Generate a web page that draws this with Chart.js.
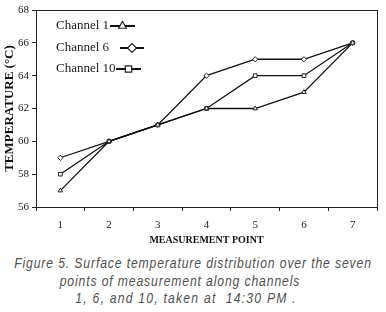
<!DOCTYPE html>
<html><head><meta charset="utf-8">
<script src="https://cdn.jsdelivr.net/npm/chart.js@4/dist/chart.umd.min.js"></script>
<style>
html,body{margin:0;padding:0;background:#fff;width:386px;height:312px;overflow:hidden}
#wrap{position:absolute;left:0;top:0;width:386px;height:250px}
#cap{position:absolute;left:-107px;top:255px;width:600px;text-align:center;font-family:"Liberation Sans",sans-serif;font-style:italic;font-size:14px;line-height:17.5px;color:#505050;letter-spacing:1px;white-space:nowrap;transform:scaleX(0.87);transform-origin:300px 0}
#cap div{box-sizing:border-box}
</style></head><body>
<div id="wrap"><canvas id="c" width="386" height="250"></canvas></div>
<div id="cap"><div>Figure 5. Surface temperature distribution over the seven</div><div style="padding-right:30px">points of measurement along channels</div><div style="padding-right:16px;letter-spacing:1.4px">1, 6, and 10, taken at &nbsp;14:30 PM .</div></div>
<script>
const categories = ["1","2","3","4","5","6","7"];
const channel1 = [57, 60, 61, 62, 62, 63, 66];
const channel6 = [59, 60, 61, 64, 65, 65, 66];
const channel10 = [58, 60, 61, 62, 64, 64, 66];
const seriesNames = ["Channel 1", "Channel 6", "Channel 10"];
const yTicks = [56, 58, 60, 62, 64, 66, 68];

const serif = "'Liberation Serif','Times New Roman',serif";
function ds(label, data, style){
  return {label, data, borderColor:'#111', borderWidth:1.3, backgroundColor:'#fff',
    pointStyle:style, pointRadius:2.6, pointBorderColor:'#222', pointBorderWidth:1,
    pointBackgroundColor:'#fff', tension:0, fill:false};
}
const legendPlugin = {
  id:'customLegend',
  afterDraw(chart){
    const ctx = chart.ctx;
    const items = [
      {t:seriesNames[0], y:26, x0:110, x1:135, style:'triangle'},
      {t:seriesNames[1], y:48, x0:120, x1:144, style:'rectRot'},
      {t:seriesNames[2], y:69, x0:116, x1:141, style:'rect'}
    ];
    ctx.save();
    ctx.font = "13px " + serif;
    ctx.fillStyle = '#222';
    ctx.textBaseline = 'middle';
    items.forEach(it=>{
      ctx.fillText(it.t, 56, it.y);
      ctx.strokeStyle = '#111'; ctx.lineWidth = 2;
      ctx.beginPath(); ctx.moveTo(it.x0, it.y); ctx.lineTo(it.x1, it.y); ctx.stroke();
      ctx.fillStyle = '#fff'; ctx.strokeStyle='#222'; ctx.lineWidth=1.2;
      Chart.helpers.drawPoint(ctx, {pointStyle:it.style, radius:4.5, borderWidth:1.2, rotation:0}, (it.x0+it.x1)/2, it.y);
      ctx.fillStyle = '#222';
    });
    const a = chart.chartArea;
    ctx.strokeStyle = '#222'; ctx.lineWidth = 1;
    ctx.strokeRect(Math.round(a.left)+0.5, Math.round(a.top)+0.5, Math.round(a.right-a.left), Math.round(a.bottom-a.top));
    ctx.restore();
  }
};
new Chart(document.getElementById('c'), {
  type:'line',
  data:{labels:categories, datasets:[ds(seriesNames[0],channel1,'triangle'), ds(seriesNames[1],channel6,'rectRot'), ds(seriesNames[2],channel10,'rect')]},
  options:{
    responsive:false, animation:false, devicePixelRatio:1,
    layout:{padding:{top:10,right:9,left:0,bottom:0}},
    plugins:{legend:{display:false}, tooltip:{enabled:false}},
    scales:{
      x:{offset:true, grid:{offset:true, drawOnChartArea:false, color:'#222', tickLength:4, tickColor:'#222'},
         border:{color:'#222'},
         ticks:{color:'#222', font:{family:serif, size:11}, padding:8, maxRotation:0},
         title:{display:true, text:'MEASUREMENT POINT', color:'#111', font:{family:serif, size:10, weight:'bold'}, padding:{top:4,bottom:4}},
         afterFit(s){ s.height = 43; }},
      y:{min:56, max:68, afterBuildTicks(s){ s.ticks = yTicks.map(v=>({value:v})); },
         grid:{drawOnChartArea:false, color:'#222', tickLength:4, tickColor:'#222'},
         border:{color:'#222'},
         ticks:{color:'#222', font:{family:serif, size:11}, padding:3},
         title:{display:true, text:'TEMPERATURE (°C)', color:'#111', font:{family:serif, size:13, weight:'bold'}, padding:{top:2,bottom:2}},
         afterFit(s){ s.width = 36; }}
    }
  },
  plugins:[legendPlugin]
});
</script>
</body></html>
